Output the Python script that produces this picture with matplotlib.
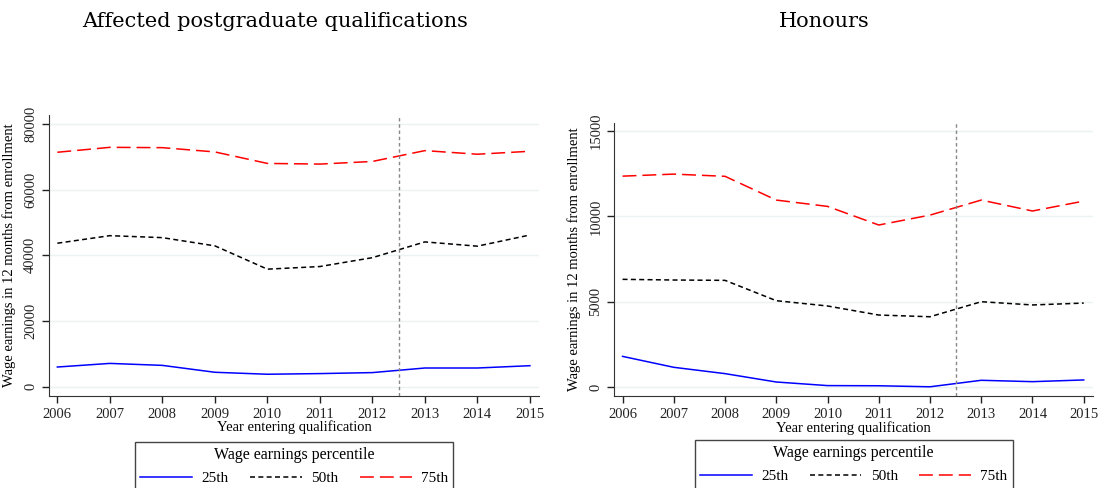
import numpy as np
import matplotlib
matplotlib.use("Agg")
import matplotlib.pyplot as plt

plt.rcParams['font.family'] = ['Liberation Serif', 'DejaVu Serif']
plt.rcParams['lines.scale_dashes'] = False

years = [2006, 2007, 2008, 2009, 2010, 2011, 2012, 2013, 2014, 2015]

# affected postgraduate qualifications
pg_p25 = [6000, 7100, 6500, 4400, 3800, 4000, 4300, 5700, 5700, 6400]
pg_p50 = [43700, 46000, 45400, 42900, 35800, 36600, 39300, 44100, 42800, 46200]
pg_p75 = [71400, 72900, 72800, 71500, 68000, 67800, 68600, 71900, 70800, 71700]

# honours
hon_p25 = [1810, 1170, 800, 310, 100, 90, 30, 410, 330, 430]
hon_p50 = [6320, 6280, 6260, 5070, 4760, 4230, 4130, 5010, 4820, 4930]
hon_p75 = [12360, 12480, 12350, 10960, 10590, 9500, 10080, 10960, 10320, 10900]

pct_labels = ['25th', '50th', '75th']
panel_titles = ['Affected postgraduate qualifications', 'Honours']
policy_year = 2012.5

fig = plt.figure(figsize=(11, 4.88), dpi=100)
ax1 = fig.add_axes([0.0445, 0.1891, 0.4458, 0.5752])
ax2 = fig.add_axes([0.5585, 0.1885, 0.4351, 0.5601])

styles = [dict(color='#0000ff', ls='-'),
          dict(color='#000000', ls=(0, (3.6, 2.4))),
          dict(color='#ff0000', ls=(0, (10, 4.3)))]

panels = [(ax1, [pg_p25, pg_p50, pg_p75], np.arange(0, 80001, 20000), (-2740, 82740), -0.138),
          (ax2, [hon_p25, hon_p50, hon_p75], np.arange(0, 15001, 5000), (-510, 15490), -0.133)]

for ax, series, yt, ylim, leg_y in panels:
    for vals, st, lab in zip(series, styles, pct_labels):
        ax.plot(years, vals, lw=1.1, label=lab, **st)
    ax.axvline(policy_year, color='#888888', lw=1, ls=(0, (2.5, 2)))
    ax.set_xlim(2005.84, 2015.18)
    ax.set_ylim(*ylim)
    ax.set_xticks(years)
    ax.set_yticks(yt)
    ax.set_yticklabels([str(v) for v in yt], rotation=90, va='center')
    ax.tick_params(labelsize=10.5, colors='#222222', length=5, width=1)
    ax.grid(axis='y', color='#eaf2f3', lw=1)
    ax.set_axisbelow(True)
    for s in ['top', 'right']:
        ax.spines[s].set_visible(False)
    for s in ['left', 'bottom']:
        ax.spines[s].set_color('#333333')
    ax.set_xlabel('Year entering qualification', fontsize=10.5, labelpad=0)
    ax.set_ylabel('Wage earnings in 12 months from enrollment', fontsize=10.5, labelpad=6)
    leg = ax.legend(loc='upper center', bbox_to_anchor=(0.5, leg_y), ncol=3,
                    title='Wage earnings percentile', fontsize=11, title_fontsize=11.5,
                    frameon=True, fancybox=False, edgecolor='#444444', framealpha=1,
                    handlelength=3.4, columnspacing=1.4, borderpad=0.35,
                    labelspacing=0.2, handletextpad=0.6)
    leg.get_frame().set_linewidth(1)
    leg._legend_box.sep = 6

fig.text(0.25, 0.955, panel_titles[0], fontsize=15, ha='center', va='center',
         family='DejaVu Serif')
fig.text(0.749, 0.955, panel_titles[1], fontsize=15, ha='center', va='center',
         family='DejaVu Serif')

fig.savefig('out.png', dpi=100)
